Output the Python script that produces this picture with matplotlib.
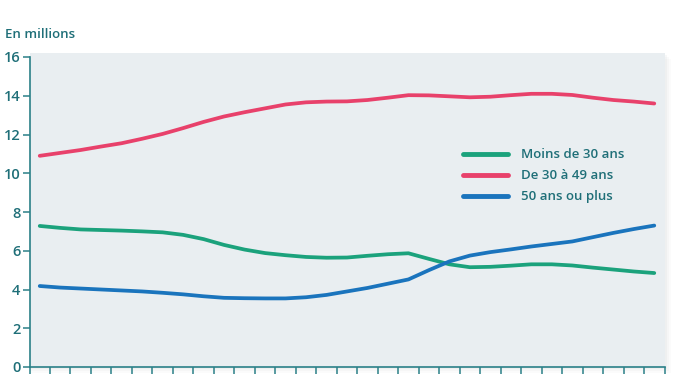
import matplotlib
matplotlib.use("Agg")
import matplotlib.pyplot as plt
from matplotlib.patches import Rectangle

# Values (millions), one point per year slot
years = list(range(31))
moins_30 = [7.28, 7.18, 7.10, 7.07, 7.04, 7.00, 6.95, 6.82, 6.60, 6.30,
            6.06, 5.88, 5.77, 5.68, 5.64, 5.65, 5.74, 5.82, 5.87, 5.58,
            5.30, 5.15, 5.17, 5.23, 5.30, 5.30, 5.24, 5.13, 5.03, 4.93, 4.85]
de_30_49 = [10.90, 11.05, 11.20, 11.38, 11.55, 11.78, 12.03, 12.33, 12.65, 12.93,
            13.15, 13.35, 13.55, 13.66, 13.70, 13.71, 13.78, 13.90, 14.03, 14.02,
            13.97, 13.92, 13.95, 14.03, 14.10, 14.10, 14.04, 13.90, 13.78, 13.70, 13.60]
plus_50 = [4.18, 4.10, 4.05, 4.00, 3.95, 3.90, 3.83, 3.75, 3.65, 3.57,
           3.55, 3.54, 3.54, 3.60, 3.72, 3.90, 4.08, 4.30, 4.52, 5.00,
           5.45, 5.75, 5.93, 6.07, 6.22, 6.35, 6.48, 6.70, 6.92, 7.12, 7.30]
series_labels = ["Moins de 30 ans", "De 30 à 49 ans", "50 ans ou plus"]
y_ticks = [0, 2, 4, 6, 8, 10, 12, 14, 16]

teal = "#1f6f78"
axis_teal = "#2b8088"
bg = "#e9eef1"
colors = ["#1ba27c", "#e8416b", "#1a74bd"]

plt.rcParams['font.family'] = ['Open Sans', 'DejaVu Sans']

W, H = 683, 384
fig = plt.figure(figsize=(W / 100, H / 100), dpi=100)

# Shadow and grey panel behind the plot area (pixel coordinates)
x0, x1, y0, y1 = 29.5, 665, 17, 331
for off, alpha in [(6, 0.04), (4, 0.05), (2, 0.07)]:
	fig.patches.append(Rectangle((x0 / W, (y0 - off) / H), (x1 - x0 + off) / W, (y1 - y0) / H,
	                             transform=fig.transFigure, facecolor="#9aa3a8", alpha=alpha,
	                             edgecolor="none", zorder=-2))
fig.patches.append(Rectangle((x0 / W, y0 / H), (x1 - x0) / W, (y1 - y0) / H,
                             transform=fig.transFigure, facecolor=bg, edgecolor="none", zorder=-1))

ax = fig.add_axes([29.5 / W, 17 / H, 635 / W, 310 / H])
ax.set_facecolor("none")

data = [moins_30, de_30_49, plus_50]
for vals, c, lab in zip(data, colors, series_labels):
	ax.plot(years, vals, color=c, lw=2.7, label=lab, solid_capstyle="round", solid_joinstyle="round")

ax.set_xlim(-0.5, 30.5)
ax.set_ylim(0, 16)
ax.set_xticks([i - 0.5 for i in range(32)])
ax.set_xticklabels([])
ax.set_yticks(y_ticks)
ax.set_yticklabels([str(v) for v in y_ticks])

for s in ["top", "right"]:
	ax.spines[s].set_visible(False)
for s in ["left", "bottom"]:
	ax.spines[s].set_color(axis_teal)
	ax.spines[s].set_linewidth(1.2)
ax.tick_params(axis="x", direction="out", length=5, width=1.1, color=axis_teal)
ax.tick_params(axis="y", direction="out", length=5, width=1.1, color=axis_teal,
               labelcolor=teal, labelsize=10.5, pad=1.5)
for lbl in ax.get_yticklabels():
	lbl.set_fontweight("semibold")

fig.text(5 / W, 1 - 34 / H, "En millions", color=teal, fontsize=9.5, fontweight="semibold", va="center")

leg = ax.legend(loc="upper left", bbox_to_anchor=(0.675, 0.722), frameon=False, fontsize=9.5,
                handlelength=3.4, handletextpad=0.95, labelspacing=0.6, borderaxespad=0)
for h in leg.get_lines():
	h.set_linewidth(3.5)
for t in leg.get_texts():
	t.set_color(teal)
	t.set_fontweight("semibold")

fig.savefig("out.png", dpi=100)
